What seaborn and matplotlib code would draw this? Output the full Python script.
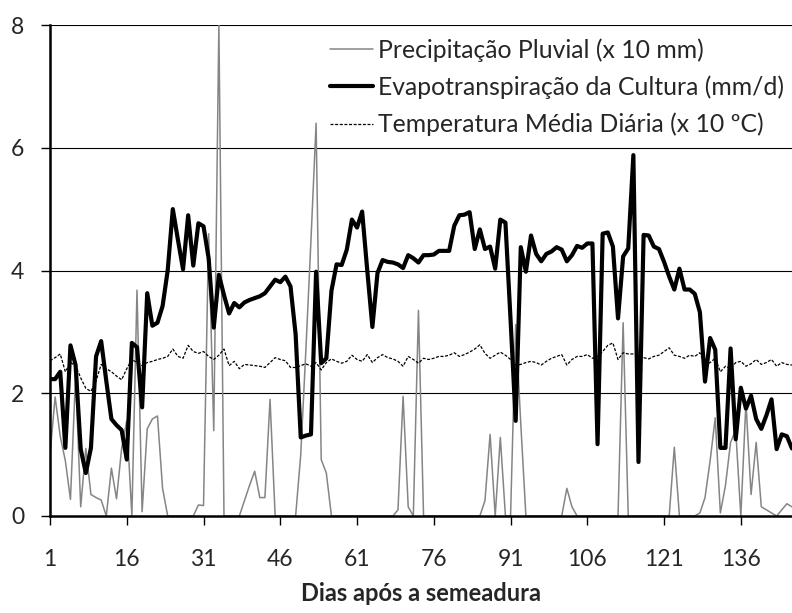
import numpy as np
import pandas as pd
import matplotlib
matplotlib.use("Agg")
import matplotlib.pyplot as plt
import seaborn as sns

days = list(range(1, 147))

precipitacao = [
    1.0, 1.94, 1.3, 0.9, 0.27, 2.3, 0.15, 1.1, 0.35, 0.3,
    0.26, 0.0, 0.78, 0.28, 1.1, 1.55, 0.0, 3.68, 0.07, 1.42,
    1.58, 1.63, 0.45, 0.0, 0.0, 0.0, 0.0, 0.0, 0.0, 0.18,
    0.17, 4.6, 1.39, 8.0, 0.0, 0.0, 0.0, 0.0, 0.25, 0.5,
    0.73, 0.3, 0.3, 1.9, 0.0, 0.0, 0.0, 0.0, 0.0, 1.0,
    2.7, 4.5, 6.4, 0.92, 0.7, 0.0, 0.0, 0.0, 0.0, 0.0,
    0.0, 0.0, 0.0, 0.0, 0.0, 0.0, 0.0, 0.0, 0.1, 1.95,
    0.15, 0.0, 3.35, 0.0, 0.0, 0.0, 0.0, 0.0, 0.0, 0.0,
    0.0, 0.0, 0.0, 0.0, 0.0, 0.25, 1.33, 0.0, 1.28, 0.0,
    0.0, 3.12, 1.5, 0.0, 0.0, 0.0, 0.0, 0.0, 0.0, 0.0,
    0.0, 0.45, 0.15, 0.0, 0.0, 0.0, 0.0, 0.0, 0.0, 0.0,
    0.0, 0.0, 3.15, 0.0, 0.0, 0.0, 0.0, 0.0, 0.0, 0.0,
    0.0, 0.0, 1.12, 0.0, 0.0, 0.0, 0.0, 0.05, 0.3, 0.9,
    1.6, 0.05, 0.5, 1.2, 1.4, 0.0, 1.85, 0.35, 1.2, 0.15,
    0.1, 0.05, 0.0, 0.1, 0.2, 0.15,
]

evapotranspiracao = [
    2.23, 2.23, 2.35, 1.11, 2.78, 2.46, 1.09, 0.70, 1.11, 2.60,
    2.85, 2.20, 1.58, 1.48, 1.40, 0.92, 2.82, 2.75, 1.77, 3.63,
    3.10, 3.15, 3.42, 4.00, 5.00, 4.50, 4.02, 4.90, 4.08, 4.77,
    4.72, 4.20, 3.07, 3.93, 3.60, 3.30, 3.47, 3.40, 3.48, 3.52,
    3.55, 3.58, 3.63, 3.74, 3.85, 3.81, 3.90, 3.74, 2.96, 1.28,
    1.31, 1.33, 3.98, 2.49, 2.57, 3.67, 4.10, 4.09, 4.34, 4.83,
    4.70, 4.96, 4.00, 3.08, 3.96, 4.17, 4.14, 4.13, 4.10, 4.04,
    4.25, 4.20, 4.13, 4.25, 4.25, 4.26, 4.32, 4.32, 4.32, 4.73,
    4.90, 4.91, 4.95, 4.35, 4.67, 4.35, 4.39, 4.03, 4.83, 4.78,
    3.20, 1.55, 4.38, 3.98, 4.57, 4.27, 4.15, 4.27, 4.31, 4.38,
    4.34, 4.15, 4.25, 4.40, 4.37, 4.44, 4.44, 1.17, 4.60, 4.62,
    4.39, 3.22, 4.23, 4.36, 5.88, 0.88, 4.58, 4.57, 4.39, 4.35,
    4.14, 3.90, 3.69, 4.03, 3.69, 3.69, 3.62, 3.32, 2.19, 2.90,
    2.71, 1.11, 1.11, 2.73, 1.25, 2.09, 1.75, 1.96, 1.58, 1.42,
    1.64, 1.90, 1.09, 1.33, 1.30, 1.10,
]

temperatura = [
    2.53, 2.58, 2.64, 2.35, 2.50, 2.45, 2.25, 2.08, 2.03, 2.20,
    2.47, 2.40, 2.35, 2.28, 2.22, 2.40, 2.55, 2.50, 2.45, 2.50,
    2.52, 2.55, 2.57, 2.60, 2.72, 2.60, 2.57, 2.78, 2.68, 2.65,
    2.68, 2.60, 2.55, 2.62, 2.72, 2.45, 2.52, 2.40, 2.47, 2.46,
    2.45, 2.44, 2.42, 2.50, 2.58, 2.55, 2.53, 2.42, 2.42, 2.45,
    2.48, 2.44, 2.50, 2.38, 2.50, 2.56, 2.52, 2.49, 2.52, 2.62,
    2.55, 2.52, 2.63, 2.50, 2.58, 2.63, 2.58, 2.56, 2.52, 2.44,
    2.60, 2.55, 2.49, 2.57, 2.55, 2.57, 2.60, 2.60, 2.62, 2.66,
    2.60, 2.63, 2.67, 2.72, 2.79, 2.65, 2.57, 2.62, 2.67, 2.62,
    2.55, 2.46, 2.47, 2.50, 2.52, 2.50, 2.46, 2.52, 2.57, 2.60,
    2.63, 2.46, 2.55, 2.60, 2.60, 2.63, 2.57, 2.60, 2.68, 2.78,
    2.82, 2.55, 2.66, 2.64, 2.64, 2.60, 2.58, 2.56, 2.60, 2.62,
    2.68, 2.74, 2.62, 2.60, 2.57, 2.62, 2.60, 2.66, 2.46, 2.50,
    2.57, 2.35, 2.44, 2.40, 2.50, 2.52, 2.44, 2.48, 2.55, 2.47,
    2.50, 2.55, 2.44, 2.50, 2.47, 2.46,
]

labels = [
    "Precipitação Pluvial (x 10 mm)",
    "Evapotranspiração da Cultura (mm/d)",
    "Temperatura Média Diária (x 10 ºC)",
]
x_ticks = [1, 16, 31, 46, 61, 76, 91, 106, 121, 136]
y_ticks = [0, 2, 4, 6, 8]

df = pd.DataFrame({"dia": days, "p": precipitacao, "et": evapotranspiracao, "t": temperatura})

sns.set_style("white")
plt.rcParams["font.family"] = ["Lato", "DejaVu Sans"]

fig = plt.figure(figsize=(7.92, 6.13), dpi=100)
ax = fig.add_axes([50 / 792, 1 - 516 / 613, 1 - 50 / 792, (516 - 25) / 613])

for yv in y_ticks[1:]:
    ax.axhline(yv, color="black", lw=0.8, zorder=0)

sns.lineplot(data=df, x="dia", y="p", ax=ax, color="#858585", lw=1.1, label=labels[0])
sns.lineplot(data=df, x="dia", y="et", ax=ax, color="black", lw=3.0, label=labels[1])
sns.lineplot(data=df, x="dia", y="t", ax=ax, color="black", lw=0.9, label=labels[2],
             dashes=False)
ax.lines[-1].set_dashes([2.4, 1.3])

ax.set_xlim(1, 146)
ax.set_ylim(0, 8)
ax.set_xticks(x_ticks)
ax.set_yticks(y_ticks)
ax.set_xticklabels([str(v) for v in x_ticks])
ax.set_yticklabels([str(v) for v in y_ticks])
ax.tick_params(axis="both", direction="out", length=6.5, width=1.0, color="black",
               labelsize=16.5, bottom=True, left=True)
ax.tick_params(axis="x", pad=17)
ax.tick_params(axis="y", pad=12)
ax.set_xlabel("Dias após a semeadura", fontsize=17, fontweight="bold", labelpad=9)
ax.set_ylabel("")

for s in ["top", "right"]:
    ax.spines[s].set_visible(False)
for s in ["left", "bottom"]:
    ax.spines[s].set_color("black")
    ax.spines[s].set_linewidth(1.8)

ax.get_legend().remove()
handles, _ = ax.get_legend_handles_labels()
fig.legend(handles, labels, loc="upper left", bbox_to_anchor=(330 / 792, 1 - 38 / 613),
           frameon=False, fontsize=17.8, handlelength=1.75, handletextpad=0.2,
           labelspacing=0.56, borderpad=0, borderaxespad=0)

fig.savefig("out.png", dpi=100)
